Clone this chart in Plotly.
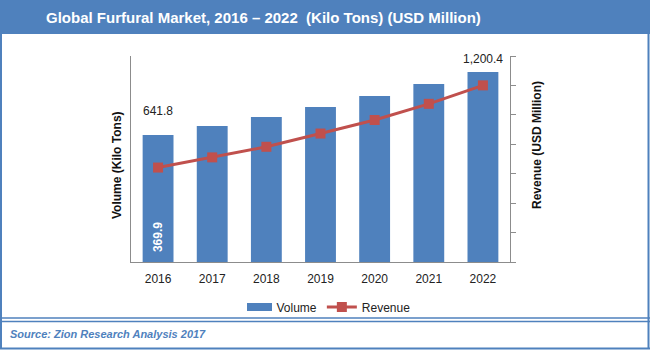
import plotly.graph_objects as go

years = ["2016", "2017", "2018", "2019", "2020", "2021", "2022"]
volume = [369.9, 396.0, 422.0, 451.5, 483.5, 518.5, 553.5]
revenue = [641.8, 711.0, 783.0, 873.0, 965.0, 1075.0, 1200.4]

W, H = 650, 350
L, R, T, B = 131, 510, 56, 262
BLUE = "#4F81BD"
RED = "#C0504D"
GRAY = "#8C8C8C"
FONT = "Liberation Sans"


def px(x):
    return (x - L) / (R - L)


def py(y):
    return (B - y) / (B - T)


fig = go.Figure()
fig.add_trace(go.Bar(x=years, y=volume, name="Volume", yaxis="y",
                     showlegend=False, legendgroup="vol",
                     marker=dict(color=BLUE, line=dict(width=0))))
# legend entry for Volume (swatch drawn as a wide rect shape below)
fig.add_trace(go.Bar(x=[years[0]], y=[None], name="Volume", yaxis="y",
                     legendgroup="vol",
                     marker=dict(color="rgba(0,0,0,0)", line=dict(width=0))))
fig.add_trace(go.Scatter(x=years, y=revenue, name="Revenue", yaxis="y2",
                         mode="lines+markers",
                         line=dict(color=RED, width=3),
                         marker=dict(symbol="square", size=10, color=RED)))

shapes = [
    # header band
    dict(type="rect", xref="paper", yref="paper", x0=px(0), x1=px(W),
         y0=py(34), y1=py(0), fillcolor=BLUE, line_width=0, layer="below"),
    # outer frame
    dict(type="line", xref="paper", yref="paper", x0=px(1), x1=px(1),
         y0=py(349), y1=py(34), line=dict(color=BLUE, width=2)),
    dict(type="line", xref="paper", yref="paper", x0=px(648.5), x1=px(648.5),
         y0=py(349), y1=py(34), line=dict(color=BLUE, width=2)),
    dict(type="line", xref="paper", yref="paper", x0=px(0), x1=px(W),
         y0=py(348.5), y1=py(348.5), line=dict(color=BLUE, width=2)),
    dict(type="line", xref="paper", yref="paper", x0=px(0), x1=px(W),
         y0=py(318), y1=py(318), line=dict(color=BLUE, width=1.5)),
    dict(type="line", xref="paper", yref="paper", x0=px(0), x1=px(W),
         y0=py(321.5), y1=py(321.5), line=dict(color=BLUE, width=1.5)),
    # wide legend swatch for Volume
    dict(type="rect", xref="paper", yref="paper", x0=px(247), x1=px(272),
         y0=py(311), y1=py(303), fillcolor=BLUE, line_width=0, layer="above"),
]

annotations = [
    dict(text="<b>Global Furfural Market, 2016 \u2013 2022  (Kilo Tons) (USD Million)</b>",
         xref="paper", yref="paper", x=px(263), y=py(17), showarrow=False,
         xanchor="center", yanchor="middle",
         font=dict(family=FONT, size=15, color="white")),
    dict(text="Source: Zion Research Analysis 2017", xref="paper", yref="paper",
         x=px(8), y=py(334), showarrow=False, xanchor="left", yanchor="middle",
         font=dict(family=FONT, size=11, color=BLUE, style="italic", weight="bold")),
    dict(text="<b>Volume (Kilo Tons)</b>", xref="paper", yref="paper",
         x=px(117), y=py(165), showarrow=False, textangle=-90,
         xanchor="center", yanchor="middle",
         font=dict(family=FONT, size=12, color="#111")),
    dict(text="<b>Revenue (USD Million)</b>", xref="paper", yref="paper",
         x=px(537), y=py(145), showarrow=False, textangle=-90,
         xanchor="center", yanchor="middle",
         font=dict(family=FONT, size=12, color="#111")),
    dict(text=f"{revenue[0]:,.1f}", x=0, y=revenue[0], xref="x", yref="y2",
         showarrow=False, yshift=57, font=dict(family=FONT, size=12, color="#222")),
    dict(text=f"{revenue[-1]:,.1f}", x=len(years) - 1, y=revenue[-1], xref="x",
         yref="y2", showarrow=False, yshift=26,
         font=dict(family=FONT, size=12, color="#222")),
    dict(text=f"<b>{volume[0]:,.1f}</b>", x=0, y=0, xref="x", yref="y",
         showarrow=False, textangle=-90, yanchor="bottom", yshift=8,
         font=dict(family=FONT, size=12, color="white")),
]

fig.update_layout(
    width=W, height=H,
    margin=dict(l=L, r=W - R, t=T, b=H - B),
    paper_bgcolor="white", plot_bgcolor="white",
    font=dict(family=FONT, size=12, color="#222"),
    bargap=0.43,
    barmode="overlay",
    showlegend=True,
    legend=dict(orientation="h", x=px(326), y=py(307), xanchor="center",
                yanchor="middle", font=dict(family=FONT, size=12, color="#222"),
                itemwidth=30, traceorder="normal", bgcolor="rgba(0,0,0,0)"),
    xaxis=dict(type="category", range=[-0.5, len(years) - 0.5], showline=True,
               linecolor=GRAY, linewidth=1, ticks="", showgrid=False,
               tickfont=dict(size=12, color="#222"), ticklabelstandoff=6),
    yaxis=dict(range=[0, 600], showline=True, linecolor=GRAY, linewidth=1,
               showgrid=False, showticklabels=False, ticks="", zeroline=False),
    yaxis2=dict(range=[0, 1400], dtick=200, overlaying="y", side="right",
                showline=True, linecolor=GRAY, linewidth=1, showgrid=False,
                showticklabels=False, ticks="outside", ticklen=5, tickcolor=GRAY,
                zeroline=False),
    shapes=shapes,
    annotations=annotations,
)

fig.write_html("out.html")
